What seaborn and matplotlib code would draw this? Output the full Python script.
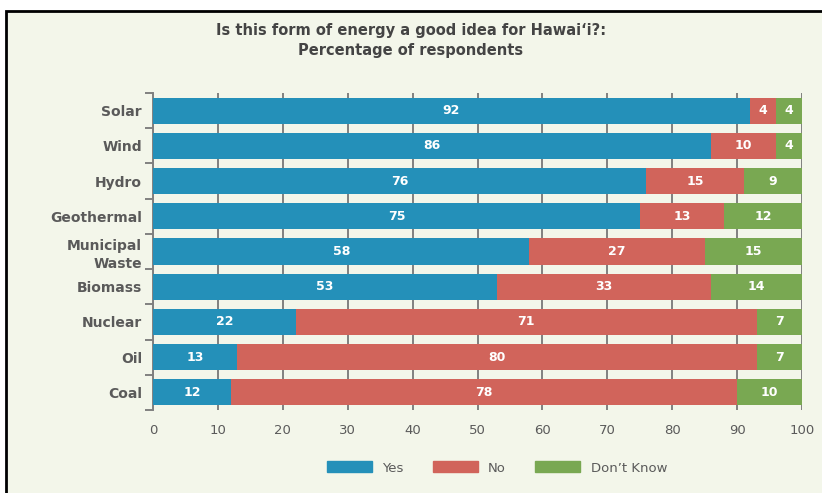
# -*- coding: utf-8 -*-
import numpy as np
import pandas as pd
import matplotlib.pyplot as plt
import seaborn as sns
from matplotlib.patches import Rectangle, Patch

# Datos de la encuesta
fuentes = ["Solar", "Wind", "Hydro", "Geothermal", "Municipal\nWaste",
           "Biomass", "Nuclear", "Oil", "Coal"]
si = [92, 86, 76, 75, 58, 53, 22, 13, 12]
no = [4, 10, 15, 13, 27, 33, 71, 80, 78]
no_sabe = [4, 4, 9, 12, 15, 14, 7, 7, 10]

c_si, c_no, c_ns = "#2490b9", "#d1645b", "#79a852"
fondo = "#f3f6ea"
gris = "#5a5a5a"

df = pd.DataFrame({"fuente": fuentes, "si": si, "no": no, "ns": no_sabe})
df["si_no"] = df["si"] + df["no"]
df["total"] = df["si_no"] + df["ns"]

fig = plt.figure(figsize=(8.22, 4.93), dpi=100, facecolor="white")
fig.patches.append(Rectangle((6 / 822, -0.05), 1.1, 1.05 - 11 / 493,
                             transform=fig.transFigure, facecolor=fondo,
                             edgecolor="black", linewidth=2, zorder=-10))
ax = fig.add_axes([153 / 822, 1 - 410 / 493, 649 / 822, 317 / 493])
ax.set_facecolor("none")

# Barras apiladas: se dibujan los acumulados del mayor al menor
sns.barplot(data=df, x="total", y="fuente", color=c_ns, width=0.74,
            orient="h", ax=ax, saturation=1, zorder=3)
sns.barplot(data=df, x="si_no", y="fuente", color=c_no, width=0.74,
            orient="h", ax=ax, saturation=1, zorder=3)
sns.barplot(data=df, x="si", y="fuente", color=c_si, width=0.74,
            orient="h", ax=ax, saturation=1, zorder=3)

# Etiquetas dentro de los segmentos
for i, row in df.iterrows():
    for ini, val in [(0, row["si"]), (row["si"], row["no"]), (row["si_no"], row["ns"])]:
        ax.text(ini + val / 2, i, str(val), ha="center", va="center",
                color="white", fontsize=9, fontweight="bold", zorder=4)

ax.set_xlim(0, 100)
ax.set_ylim(8.5, -0.5)
ax.set_xticks(np.arange(0, 101, 10))
ax.set_yticks(range(len(fuentes)))
ax.set_yticks(np.arange(-0.5, 9, 1), minor=True)
ax.set_xlabel("")
ax.set_ylabel("")
ax.grid(axis="x", color="#808080", linewidth=1.4, zorder=1)
ax.set_axisbelow(True)
for s in ["top", "right", "bottom"]:
    ax.spines[s].set_visible(False)
ax.spines["left"].set_color("#808080")
ax.spines["left"].set_linewidth(1.4)
ax.tick_params(axis="x", length=0, pad=10, labelsize=9.5, labelcolor=gris)
ax.tick_params(axis="y", which="major", length=0, pad=8)
ax.tick_params(axis="y", which="minor", length=6, width=1.4, color="#808080")
for lab in ax.get_yticklabels():
    lab.set_fontweight("bold")
    lab.set_fontsize(10)
    lab.set_color(gris)
    lab.set_linespacing(1.35)

fig.text(0.5, 1 - 30 / 493, "Is this form of energy a good idea for Hawai\u2018i?:",
         ha="center", va="center", fontsize=10.5, fontweight="bold", color="#444444")
fig.text(0.5, 1 - 51 / 493, "Percentage of respondents",
         ha="center", va="center", fontsize=10.5, fontweight="bold", color="#444444")

handles = [Patch(color=c_si, label="Yes"), Patch(color=c_no, label="No"),
           Patch(color=c_ns, label="Don\u2019t Know")]
leg = fig.legend(handles=handles, loc="center", bbox_to_anchor=(497 / 822, 1 - 468 / 493),
                 ncol=3, frameon=False, handlelength=3.4, handleheight=0.9,
                 columnspacing=2.2, handletextpad=0.8, fontsize=9.5)
for t in leg.get_texts():
    t.set_color(gris)

plt.savefig("out.png", dpi=100, facecolor="white")
